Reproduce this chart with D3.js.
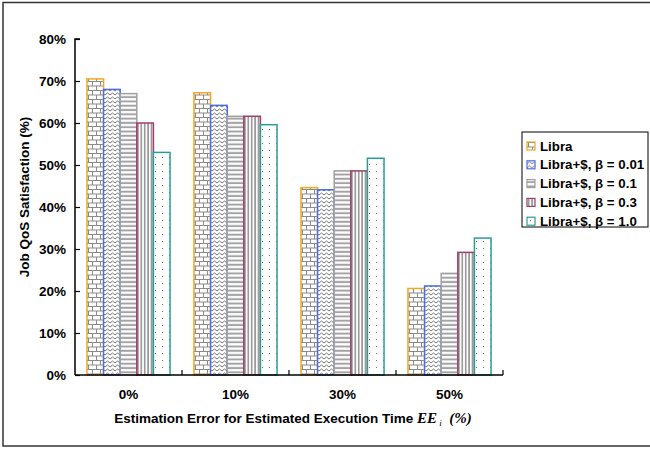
<!DOCTYPE html>
<html>
<head>
<meta charset="utf-8">
<script src="https://cdn.jsdelivr.net/npm/d3@7"></script>
<style>
  body { margin: 0; background: #fff; }
  text { font-family: "Liberation Sans", Arial, sans-serif; font-weight: bold; fill: #000; }
</style>
</head>
<body>
<div id="chart"></div>
<script>
// data
var categories = ["0%", "10%", "30%", "50%"];
var seriesNames = ["Libra", "Libra+$, \u03b2 = 0.01", "Libra+$, \u03b2 = 0.1", "Libra+$, \u03b2 = 0.3", "Libra+$, \u03b2 = 1.0"];
var libra   = [0.705, 0.672, 0.446, 0.206];
var beta001 = [0.680, 0.642, 0.441, 0.212];
var beta01  = [0.670, 0.616, 0.486, 0.242];
var beta03  = [0.600, 0.616, 0.486, 0.292];
var beta10  = [0.530, 0.596, 0.516, 0.326];
var yTicks = [0, 0.1, 0.2, 0.3, 0.4, 0.5, 0.6, 0.7, 0.8];

var seriesValues = [libra, beta001, beta01, beta03, beta10];
var strokes = ["#f5a623", "#4a6fe3", "#a0a0a0", "#a0406a", "#2a9d96"];
var patternIds = ["p-brick", "p-zigzag", "p-hstripe", "p-vline", "p-dots"];

var width = 650, height = 450;
var margins = { top: 39, right: 147, bottom: 75, left: 75 };

var svg = d3.select("#chart").append("svg")
  .attr("width", width)
  .attr("height", height);

// outer frame
svg.append("rect")
  .attr("x", 3).attr("y", 2.5)
  .attr("width", 650).attr("height", 443.5)
  .attr("fill", "#fff")
  .attr("stroke", "#333")
  .attr("stroke-width", 1.5);

// fill patterns
var defs = svg.append("defs");

var brick = defs.append("pattern").attr("id", "p-brick")
  .attr("patternUnits", "userSpaceOnUse").attr("width", 8).attr("height", 9);
brick.append("rect").attr("width", 8).attr("height", 9).attr("fill", "#fff");
brick.append("path")
  .attr("d", "M0,0.5H8M0,5H8M1.5,0.5V5M5.5,5V9")
  .attr("stroke", "#8a8a8a").attr("stroke-width", 1).attr("fill", "none");

var zig = defs.append("pattern").attr("id", "p-zigzag")
  .attr("patternUnits", "userSpaceOnUse").attr("width", 5).attr("height", 4);
zig.append("rect").attr("width", 5).attr("height", 4).attr("fill", "#fff");
zig.append("path")
  .attr("d", "M0,3L2.5,1L5,3")
  .attr("stroke", "#666").attr("stroke-width", 0.9).attr("fill", "none");

var hs = defs.append("pattern").attr("id", "p-hstripe")
  .attr("patternUnits", "userSpaceOnUse").attr("width", 8).attr("height", 4.3);
hs.append("rect").attr("width", 8).attr("height", 4.3).attr("fill", "#fff");
hs.append("rect").attr("y", 1.5).attr("width", 8).attr("height", 2).attr("fill", "#a3a3a3");

var vl = defs.append("pattern").attr("id", "p-vline")
  .attr("patternUnits", "userSpaceOnUse").attr("width", 3.4).attr("height", 8);
vl.append("rect").attr("width", 3.4).attr("height", 8).attr("fill", "#fff");
vl.append("rect").attr("x", 1.2).attr("width", 1).attr("height", 8).attr("fill", "#555");

var dots = defs.append("pattern").attr("id", "p-dots")
  .attr("patternUnits", "userSpaceOnUse").attr("width", 7).attr("height", 7);
dots.append("rect").attr("width", 7).attr("height", 7).attr("fill", "#fff");
dots.append("rect").attr("x", 3).attr("y", 3).attr("width", 1).attr("height", 1).attr("fill", "#777");

// scales
var scaleX = d3.scaleBand()
  .domain(categories)
  .range([margins.left, width - margins.right])
  .paddingInner(0).paddingOuter(0);

var scaleSeries = d3.scaleBand()
  .domain(d3.range(seriesNames.length))
  .range([0, scaleX.bandwidth()])
  .paddingInner(0).paddingOuter(0.72);

var scaleY = d3.scaleLinear()
  .domain([0, 0.8])
  .range([height - margins.bottom, margins.top]);

// bars
var groups = svg.append("g").selectAll("g")
  .data(categories)
  .enter().append("g")
  .attr("transform", function (d) { return "translate(" + scaleX(d) + ",0)"; });

groups.selectAll("rect")
  .data(function (d, ci) {
    return seriesValues.map(function (vals, si) { return { s: si, v: vals[ci] }; });
  })
  .enter().append("rect")
  .attr("x", function (d) { return scaleSeries(d.s); })
  .attr("y", function (d) { return scaleY(d.v); })
  .attr("width", scaleSeries.bandwidth())
  .attr("height", function (d) { return scaleY(0) - scaleY(d.v); })
  .attr("fill", function (d) { return "url(#" + patternIds[d.s] + ")"; })
  .attr("stroke", function (d) { return strokes[d.s]; })
  .attr("stroke-width", 1.5);

// y axis (ticks inside)
var yAxis = svg.append("g")
  .attr("transform", "translate(" + margins.left + ",0)")
  .call(d3.axisRight(scaleY).tickValues(yTicks).tickSize(5).tickFormat(d3.format(".0%")));
yAxis.select(".domain").attr("stroke", "#000").attr("stroke-width", 1.5).attr("d", "M5," + scaleY(0.8) + "H0V" + scaleY(0));
yAxis.selectAll(".tick line").attr("stroke", "#000").attr("stroke-width", 1.2);
yAxis.selectAll(".tick text")
  .attr("x", -9).attr("text-anchor", "end")
  .style("font-size", "13.5px").style("font-family", "Liberation Sans, Arial, sans-serif").style("font-weight", "bold");

// x axis (ticks on category boundaries, pointing up)
var xAxisG = svg.append("g")
  .attr("transform", "translate(0," + scaleY(0) + ")");
xAxisG.append("line")
  .attr("x1", margins.left).attr("x2", width - margins.right)
  .attr("stroke", "#000").attr("stroke-width", 1.5);
xAxisG.selectAll("line.bound")
  .data(categories)
  .enter().append("line")
  .attr("class", "bound")
  .attr("x1", function (d) { return scaleX(d) + scaleX.bandwidth(); })
  .attr("x2", function (d) { return scaleX(d) + scaleX.bandwidth(); })
  .attr("y1", 0).attr("y2", -5)
  .attr("stroke", "#000").attr("stroke-width", 1.2);
xAxisG.selectAll("text.cat")
  .data(categories)
  .enter().append("text")
  .attr("class", "cat")
  .attr("x", function (d) { return scaleX(d) + scaleX.bandwidth() / 2; })
  .attr("y", 24)
  .attr("text-anchor", "middle")
  .style("font-size", "13.5px")
  .text(function (d) { return d; });

// axis titles
var xTitle = svg.append("text")
  .attr("x", (margins.left + width - margins.right) / 2 + 4)
  .attr("y", 423)
  .attr("text-anchor", "middle")
  .style("font-size", "13.5px");
xTitle.append("tspan").text("Estimation Error for Estimated Execution Time ");
xTitle.append("tspan").style("font-family", "Liberation Serif, Times New Roman, serif")
  .style("font-style", "italic").style("font-size", "15px").text("EE");
xTitle.append("tspan").style("font-family", "Liberation Serif, Times New Roman, serif")
  .style("font-style", "italic").style("font-weight", "normal").style("font-size", "9px")
  .attr("dy", 3).text(" i");
xTitle.append("tspan").style("font-family", "Liberation Serif, Times New Roman, serif")
  .style("font-style", "italic").style("font-size", "15px")
  .attr("dy", -3).text("\u2002(%)");

svg.append("text")
  .attr("transform", "translate(29,197) rotate(-90)")
  .attr("text-anchor", "middle")
  .style("font-size", "13.5px")
  .text("Job QoS Satisfaction (%)");

// legend
var legend = svg.append("g").attr("transform", "translate(522,132)");
legend.append("rect")
  .attr("width", 126).attr("height", 95)
  .attr("fill", "#fff").attr("stroke", "#000").attr("stroke-width", 1);

var items = legend.selectAll("g.item")
  .data(seriesNames)
  .enter().append("g")
  .attr("class", "item")
  .attr("transform", function (d, i) { return "translate(5," + (10 + i * 18.8) + ")"; });
items.append("rect")
  .attr("width", 8).attr("height", 8)
  .attr("fill", function (d, i) { return "url(#" + patternIds[i] + ")"; })
  .attr("stroke", function (d, i) { return strokes[i]; })
  .attr("stroke-width", 1.2);
items.append("text")
  .attr("x", 13).attr("y", 8.5)
  .style("font-size", "13.3px")
  .text(function (d) { return d; });
</script>
</body>
</html>
